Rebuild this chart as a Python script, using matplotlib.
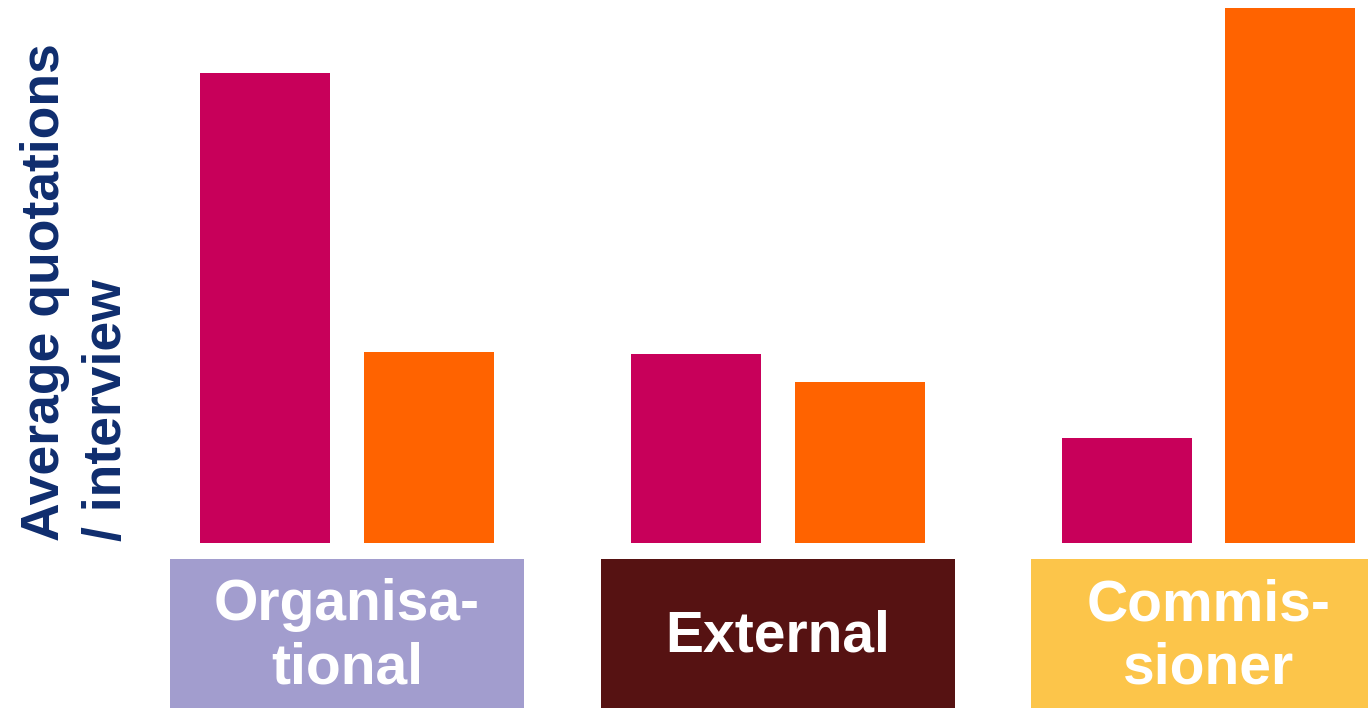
import matplotlib.pyplot as plt
import numpy as np

plt.rcParams['font.family'] = ['Liberation Sans', 'DejaVu Sans']

# data (arbitrary units, no axis scale shown)
groups = ["Organisa-\ntional", "External", "Commis-\nsioner"]
series_a = [4.70, 1.89, 1.05]   # magenta
series_b = [1.91, 1.61, 5.35]   # orange
box_colors = ["#A29DCE", "#561212", "#FCC54A"]

col_a = "#C8005A"
col_b = "#FF6300"
navy = "#0F2D6E"

fig = plt.figure(figsize=(13.68, 7.08), dpi=100)
ax = fig.add_axes([0, 165 / 708, 1, 543 / 708])

x = np.arange(len(groups))
w = 0.302
off = 0.19

ax.bar(x - off, series_a, width=w, color=col_a)
ax.bar(x + off, series_b, width=w, color=col_b)

# category label boxes under the bars
ax.bar(x, [-1.6] * len(groups), bottom=-0.16, width=0.822,
       color=box_colors, clip_on=False)
for xi, g in zip(x, groups):
    ax.text(xi, -0.94, g, ha="center", va="center", color="white",
            fontsize=41, fontweight="bold", linespacing=1.22, clip_on=False)

ax.set_xlim(-347 / 430.75, (1368 - 347) / 430.75)
ax.set_ylim(0, 5.43)
ax.axis("off")

fig.text(76 / 1368, (708 - 541) / 708, "Average quotations\n/ interview",
         rotation=90, ha="center", va="bottom", multialignment="left",
         color=navy, fontsize=38.5, fontweight="bold", linespacing=1.3)

fig.savefig("out.png", dpi=100)
